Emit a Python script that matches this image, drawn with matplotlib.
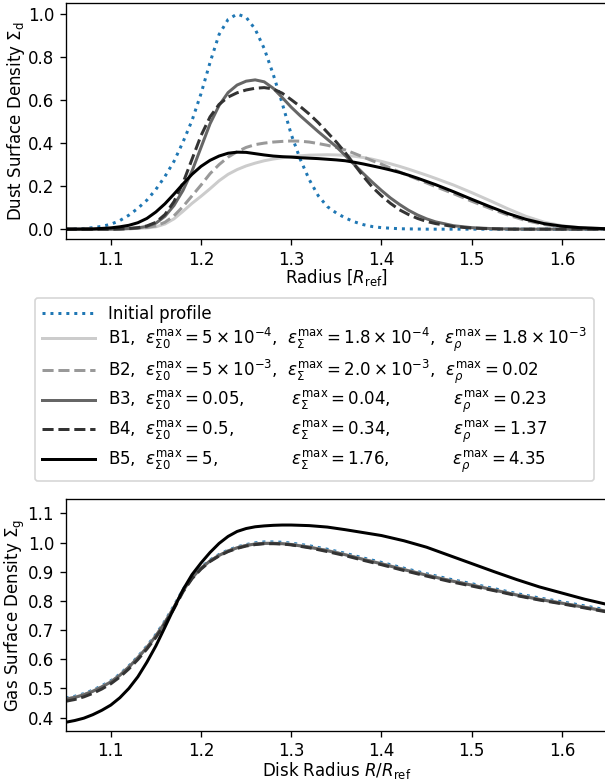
import matplotlib
matplotlib.use("Agg")
import matplotlib.pyplot as plt
from matplotlib.ticker import MultipleLocator

# ---- dust surface density (top panel) ----
r_init = [1.05, 1.06, 1.07, 1.08, 1.09, 1.10, 1.11, 1.12, 1.13, 1.14, 1.15, 1.16,
          1.17, 1.18, 1.19, 1.20, 1.21, 1.22, 1.23, 1.24, 1.25, 1.26, 1.27, 1.28,
          1.29, 1.30, 1.31, 1.32, 1.33, 1.34, 1.35, 1.36, 1.37, 1.38, 1.39, 1.40,
          1.42, 1.45, 1.50, 1.55, 1.60, 1.65]
dust_init = [0.0, 0.001, 0.003, 0.007, 0.013, 0.023, 0.04, 0.065, 0.097, 0.135, 0.185, 0.245,
             0.315, 0.405, 0.505, 0.63, 0.775, 0.905, 0.975, 1.0, 0.985, 0.93, 0.84, 0.72,
             0.585, 0.44, 0.325, 0.23, 0.155, 0.105, 0.075, 0.052, 0.034, 0.021, 0.012, 0.007,
             0.002, 0.0, 0.0, 0.0, 0.0, 0.0]

r_dust = [1.05, 1.08, 1.10, 1.11, 1.12, 1.13, 1.14, 1.15, 1.16, 1.17, 1.18, 1.19,
          1.20, 1.21, 1.22, 1.23, 1.24, 1.25, 1.26, 1.27, 1.28, 1.29, 1.30, 1.31,
          1.32, 1.33, 1.34, 1.35, 1.36, 1.37, 1.38, 1.39, 1.40, 1.41, 1.42, 1.43,
          1.44, 1.45, 1.46, 1.48, 1.50, 1.52, 1.54, 1.56, 1.58, 1.60, 1.62, 1.65]
dust_b1 = [0.0, 0.0, 0.0, 0.001, 0.002, 0.004, 0.006, 0.011, 0.024, 0.048, 0.083, 0.12,
           0.153, 0.188, 0.225, 0.255, 0.277, 0.294, 0.307, 0.318, 0.326, 0.332, 0.337, 0.341,
           0.344, 0.345, 0.346, 0.345, 0.343, 0.339, 0.333, 0.325, 0.315, 0.304, 0.292, 0.279,
           0.265, 0.251, 0.236, 0.205, 0.17, 0.133, 0.095, 0.06, 0.033, 0.016, 0.007, 0.002]
dust_b2 = [0.0, 0.0, 0.0, 0.001, 0.002, 0.004, 0.008, 0.015, 0.032, 0.062, 0.105, 0.155,
           0.205, 0.258, 0.3, 0.335, 0.36, 0.38, 0.393, 0.4, 0.405, 0.408, 0.41, 0.409,
           0.405, 0.398, 0.39, 0.38, 0.368, 0.352, 0.335, 0.318, 0.302, 0.284, 0.266, 0.249,
           0.232, 0.215, 0.198, 0.165, 0.13, 0.097, 0.066, 0.04, 0.022, 0.011, 0.005, 0.001]
dust_b3 = [0.0, 0.0, 0.0, 0.001, 0.003, 0.006, 0.013, 0.028, 0.06, 0.11, 0.18, 0.27,
           0.38, 0.49, 0.575, 0.635, 0.67, 0.688, 0.694, 0.685, 0.655, 0.612, 0.567, 0.527,
           0.49, 0.453, 0.418, 0.383, 0.342, 0.3, 0.258, 0.218, 0.18, 0.145, 0.115, 0.088,
           0.066, 0.048, 0.034, 0.016, 0.007, 0.003, 0.001, 0.0, 0.0, 0.0, 0.0, 0.0]
dust_b4 = [0.0, 0.0, 0.0, 0.001, 0.003, 0.007, 0.015, 0.032, 0.068, 0.128, 0.215, 0.325,
           0.435, 0.522, 0.58, 0.614, 0.634, 0.647, 0.655, 0.658, 0.652, 0.632, 0.602, 0.57,
           0.535, 0.495, 0.45, 0.405, 0.355, 0.3, 0.245, 0.195, 0.155, 0.12, 0.09, 0.068,
           0.05, 0.036, 0.026, 0.012, 0.005, 0.002, 0.0, 0.0, 0.0, 0.0, 0.0, 0.0]
dust_b5 = [0.0, 0.001, 0.006, 0.011, 0.018, 0.03, 0.05, 0.08, 0.118, 0.163, 0.21, 0.255,
           0.292, 0.32, 0.34, 0.353, 0.358, 0.357, 0.351, 0.345, 0.34, 0.337, 0.335, 0.332,
           0.33, 0.328, 0.325, 0.322, 0.318, 0.311, 0.303, 0.294, 0.285, 0.275, 0.264, 0.251,
           0.237, 0.222, 0.207, 0.174, 0.139, 0.105, 0.073, 0.046, 0.026, 0.014, 0.007, 0.002]

# ---- gas surface density (bottom panel) ----
r_gas = [1.05, 1.06, 1.07, 1.08, 1.09, 1.10, 1.11, 1.12, 1.13, 1.14, 1.15, 1.16,
         1.17, 1.18, 1.19, 1.20, 1.21, 1.22, 1.23, 1.24, 1.25, 1.26, 1.27, 1.28,
         1.29, 1.30, 1.32, 1.34, 1.36, 1.38, 1.40, 1.425, 1.45, 1.475, 1.50, 1.525,
         1.55, 1.575, 1.60, 1.625, 1.65]
gas_init = [0.467, 0.473, 0.482, 0.494, 0.509, 0.526, 0.549, 0.577, 0.609, 0.645, 0.685, 0.731,
            0.783, 0.839, 0.883, 0.915, 0.94, 0.959, 0.974, 0.985, 0.993, 0.999, 1.002, 1.002,
            1.001, 0.998, 0.989, 0.977, 0.963, 0.947, 0.932, 0.912, 0.893, 0.875, 0.859, 0.842,
            0.825, 0.81, 0.797, 0.783, 0.769]
gas_b1 = [0.464, 0.47, 0.479, 0.491, 0.506, 0.523, 0.546, 0.574, 0.606, 0.641, 0.681, 0.727,
          0.779, 0.836, 0.88, 0.912, 0.937, 0.956, 0.971, 0.982, 0.99, 0.995, 0.998, 0.998,
          0.997, 0.994, 0.985, 0.973, 0.959, 0.943, 0.928, 0.908, 0.889, 0.871, 0.855, 0.838,
          0.821, 0.806, 0.793, 0.779, 0.765]
gas_b2 = [0.463, 0.469, 0.478, 0.49, 0.505, 0.522, 0.545, 0.573, 0.605, 0.64, 0.68, 0.726,
          0.778, 0.835, 0.879, 0.912, 0.937, 0.956, 0.971, 0.982, 0.99, 0.995, 0.997, 0.997,
          0.996, 0.993, 0.984, 0.972, 0.958, 0.942, 0.927, 0.907, 0.888, 0.87, 0.854, 0.837,
          0.82, 0.805, 0.792, 0.778, 0.764]
gas_b3 = [0.463, 0.469, 0.478, 0.49, 0.505, 0.522, 0.545, 0.573, 0.605, 0.64, 0.68, 0.726,
          0.778, 0.835, 0.879, 0.912, 0.937, 0.956, 0.971, 0.982, 0.99, 0.995, 0.997, 0.997,
          0.996, 0.993, 0.984, 0.972, 0.958, 0.942, 0.927, 0.907, 0.888, 0.87, 0.854, 0.837,
          0.82, 0.805, 0.792, 0.778, 0.764]
gas_b4 = [0.456, 0.462, 0.471, 0.483, 0.498, 0.516, 0.539, 0.567, 0.599, 0.635, 0.675, 0.721,
          0.773, 0.831, 0.876, 0.909, 0.935, 0.954, 0.969, 0.98, 0.988, 0.993, 0.996, 0.996,
          0.995, 0.992, 0.982, 0.969, 0.955, 0.939, 0.924, 0.904, 0.885, 0.867, 0.851, 0.835,
          0.818, 0.803, 0.79, 0.776, 0.762]
gas_b5 = [0.384, 0.39, 0.398, 0.41, 0.425, 0.443, 0.468, 0.5, 0.54, 0.59, 0.646, 0.71,
          0.775, 0.838, 0.89, 0.93, 0.966, 0.997, 1.021, 1.038, 1.048, 1.054, 1.057, 1.059,
          1.06, 1.06, 1.058, 1.053, 1.044, 1.034, 1.024, 1.006, 0.984, 0.956, 0.928, 0.9,
          0.873, 0.848, 0.827, 0.806, 0.788]

labels = [
    "B1,  $\\epsilon_{\\Sigma 0}^{\\rm max} = 5 \\times 10^{-4}$,  "
    "$\\epsilon_{\\Sigma}^{\\rm max} = 1.8 \\times 10^{-4}$,  "
    "$\\epsilon_{\\rho}^{\\rm max} = 1.8 \\times 10^{-3}$",
    "B2,  $\\epsilon_{\\Sigma 0}^{\\rm max} = 5 \\times 10^{-3}$,  "
    "$\\epsilon_{\\Sigma}^{\\rm max} = 2.0 \\times 10^{-3}$,  "
    "$\\epsilon_{\\rho}^{\\rm max} = 0.02$",
    "B3,  $\\epsilon_{\\Sigma 0}^{\\rm max} = 0.05$,         "
    "$\\epsilon_{\\Sigma}^{\\rm max} = 0.04$,            "
    "$\\epsilon_{\\rho}^{\\rm max} = 0.23$",
    "B4,  $\\epsilon_{\\Sigma 0}^{\\rm max} = 0.5$,           "
    "$\\epsilon_{\\Sigma}^{\\rm max} = 0.34$,            "
    "$\\epsilon_{\\rho}^{\\rm max} = 1.37$",
    "B5,  $\\epsilon_{\\Sigma 0}^{\\rm max} = 5$,              "
    "$\\epsilon_{\\Sigma}^{\\rm max} = 1.76$,            "
    "$\\epsilon_{\\rho}^{\\rm max} = 4.35$",
]
colors = ["#cccccc", "#999999", "#666666", "#333333", "#000000"]
styles = ["-", "--", "-", "--", "-"]

plt.rcParams["font.size"] = 10

fig = plt.figure(figsize=(605 / 120, 783 / 120), dpi=120)
ax1 = fig.add_axes([0.1086, 0.6944, 0.8947, 0.3014])
ax2 = fig.add_axes([0.1086, 0.0660, 0.8947, 0.2970])

lw = 1.8
ax1.plot(r_init, dust_init, ":", color="tab:blue", lw=lw, label="Initial profile")
for y, c, ls, lab in zip([dust_b1, dust_b2, dust_b3, dust_b4, dust_b5], colors, styles, labels):
    ax1.plot(r_dust, y, ls, color=c, lw=lw, label=lab)
ax1.set_xlim(1.05, 1.65)
ax1.set_ylim(-0.047, 1.05)
ax1.set_xlabel("Radius [$R_{\\rm ref}$]")
ax1.set_ylabel("Dust Surface Density $\\Sigma_{\\rm d}$")
ax1.xaxis.set_label_coords(0.5, -0.118)
ax1.yaxis.set_label_coords(-0.072, 0.5)

ax2.plot(r_gas, gas_init, ":", color="tab:blue", lw=lw)
for y, c, ls in zip([gas_b1, gas_b2, gas_b3, gas_b4, gas_b5], colors, styles):
    ax2.plot(r_gas, y, ls, color=c, lw=lw)
ax2.set_xlim(1.05, 1.65)
ax2.set_ylim(0.353, 1.15)
ax2.yaxis.set_major_locator(MultipleLocator(0.1))
ax2.tick_params(axis="x", pad=3)
ax2.set_xlabel("Disk Radius $R/R_{\\rm ref}$")
ax2.set_ylabel("Gas Surface Density $\\Sigma_{\\rm g}$")
ax2.xaxis.set_label_coords(0.5, -0.125)
ax2.yaxis.set_label_coords(-0.072, 0.5)

h, l = ax1.get_legend_handles_labels()
fig.legend(h, l, loc="upper left", bbox_to_anchor=(0.0579, 0.6194),
           borderaxespad=0, handlelength=3.2, labelspacing=0.2, fontsize=10)

fig.savefig("out.png", dpi=120)
